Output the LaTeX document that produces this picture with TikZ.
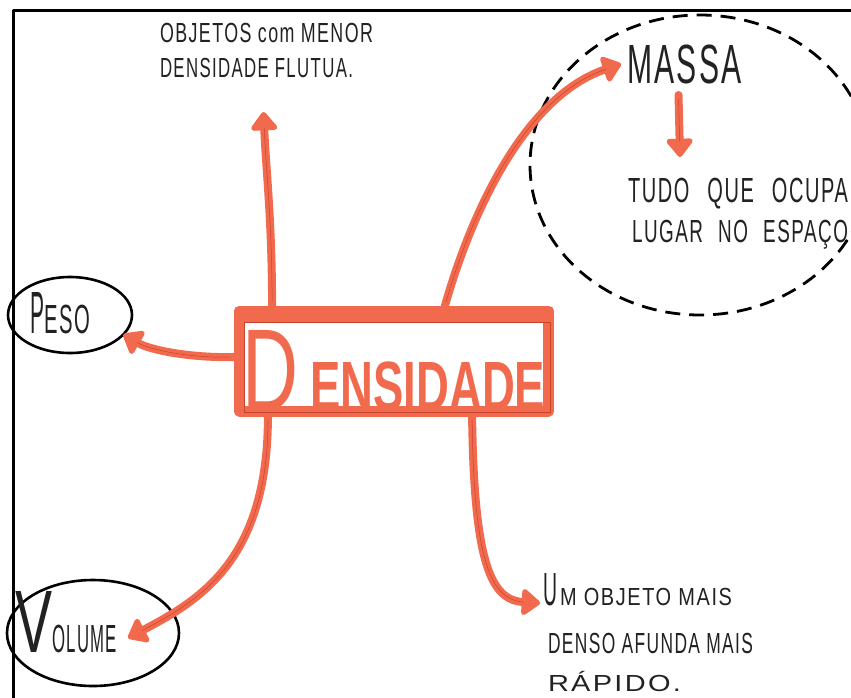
\documentclass[tikz,border=0pt]{standalone}
\usepackage{fontspec}
\setmainfont{Liberation Sans}
\newfontfamily\handfont[LetterSpace=8]{Liberation Sans}
\usetikzlibrary{arrows.meta,calc,shapes.geometric}

\definecolor{marker}{HTML}{F26A4E}
\definecolor{markerdark}{HTML}{C9432C}
\definecolor{ink}{HTML}{222222}

% handwritten-looking word: width #1 pt, cap height #2 pt
\newcommand\hw[3]{\resizebox{#1pt}{#2pt}{\vphantom{X}\smash{#3}}}

\begin{document}
\begin{tikzpicture}[x=1pt, y=-1pt, line join=round,
  hand/.style={inner sep=0pt, outer sep=0pt, anchor=base west, font=\handfont, text=ink},
  ring/.style={draw=black, line width=2.6pt, ellipse, inner sep=0pt, outer sep=0pt},
  arr/.style={draw=marker, line width=8pt, line cap=round,
    -{Triangle[round,length=20pt,width=30pt]},
    postaction={draw=markerdark, line width=0.5pt, -, shorten >=16pt, shorten <=4pt}},
  thin/.style={draw=markerdark, line width=0.6pt}]

\useasboundingbox (0,0) rectangle (851,697);
\clip (0,0) rectangle (851,697);
\fill[white] (0,0) rectangle (851,697);

% page frame
\draw[line width=3pt] (13,710) -- (13,10) -- (860,10);

% rings around the side concepts
\node[ring, minimum width=124pt, minimum height=76pt] (pesoring) at (70,315) {};
\node[ring, minimum width=172pt, minimum height=106pt] (volring) at (93,633) {};
\node[draw=black, line width=2.8pt, dash pattern=on 15pt off 9pt, ellipse,
      minimum width=340pt, minimum height=300pt, inner sep=0pt] (massaring) at (700,165) {};

% texts
\node[hand] (obj) at (160,42) {\hw{213}{19}{OBJETOS com MENOR}};
\node[hand] (flutua) at (160,77) {\hw{193}{19}{DENSIDADE FLUTUA.}};
\node[hand] (massa) at (627,83) {\hw{115}{38}{MASSA}};
\node[hand] (tudo) at (628,202) {\hw{220}{24}{TUDO\hspace{0.9em}QUE\hspace{0.9em}OCUPA}};
\node[hand] (lugar) at (632,242) {\hw{216}{22}{LUGAR\hspace{0.8em}NO\hspace{0.8em}ESPAÇO}};
\node[hand] (peso) at (30,333) {\hw{14}{41}{P}\hw{46}{28}{ESO}};
\node[hand] (volume) at (15,652) {\hw{37}{61}{V}\hw{65}{27}{OLUME}};
\node[hand] (um) at (543,605) {\hw{14}{32}{U}\hspace{3pt}\hw{172}{17}{M OBJETO MAIS}};
\node[hand] (denso) at (548,653) {\hw{205}{20}{DENSO AFUNDA MAIS}};
\node[hand] (rapido) at (548,691) {\hw{133}{16}{RÁPIDO.}};

% central concept box
\node[draw=marker, fill=white, line width=10pt, minimum width=310pt, minimum height=100pt,
      inner sep=0pt] (dens) at (394,361) {};

% connectors out of the box
\draw[arr] ($(dens.north west)!0.119!(dens.north east)$)
  .. controls (272,220) and (266,170) .. ($(flutua.south)+(7,35)$);
\draw[arr] ($(dens.north west)!0.659!(dens.north east)$)
  .. controls (475,200) and (530,95) .. ($(massa.west)+(-6,0)$);
\draw[arr] ($(dens.north west)!0.464!(dens.south west)$)
  .. controls (190,358) and (150,350) .. (pesoring.-20);
\draw[arr] ($(dens.south west)!0.106!(dens.south east)$)
  .. controls (268,560) and (200,600) .. ($(volume.base east)+(11,-14)$);
\draw[arr] ($(dens.south west)!0.744!(dens.south east)$)
  .. controls (474,560) and (490,600) .. ($(um.base west)+(-3,-2)$);
\draw[arr] ($(massa.south)+(-6,12)$) -- ($(tudo.north west)+(52,-21)$);

% box drawn again on top of the connector roots
\draw[marker, line width=11pt] ($(dens.north west)+(5.5,6)$) rectangle ($(dens.south east)+(-5.5,-5)$);
\draw[marker, line width=5pt] ($(dens.north west)+(9,13)$) -- ($(dens.north east)+(-9,13)$);
\draw[thin] ($(dens.north west)+(10,16)$) rectangle ($(dens.south east)+(-4,-4)$);

% the central word
\node[inner sep=0pt, anchor=base west, text=marker] (word) at (242,410)
  {\hw{56}{80}{D}\hspace{12pt}\hw{235}{48}{\bfseries ENSIDADE}};
\end{tikzpicture}
\end{document}
